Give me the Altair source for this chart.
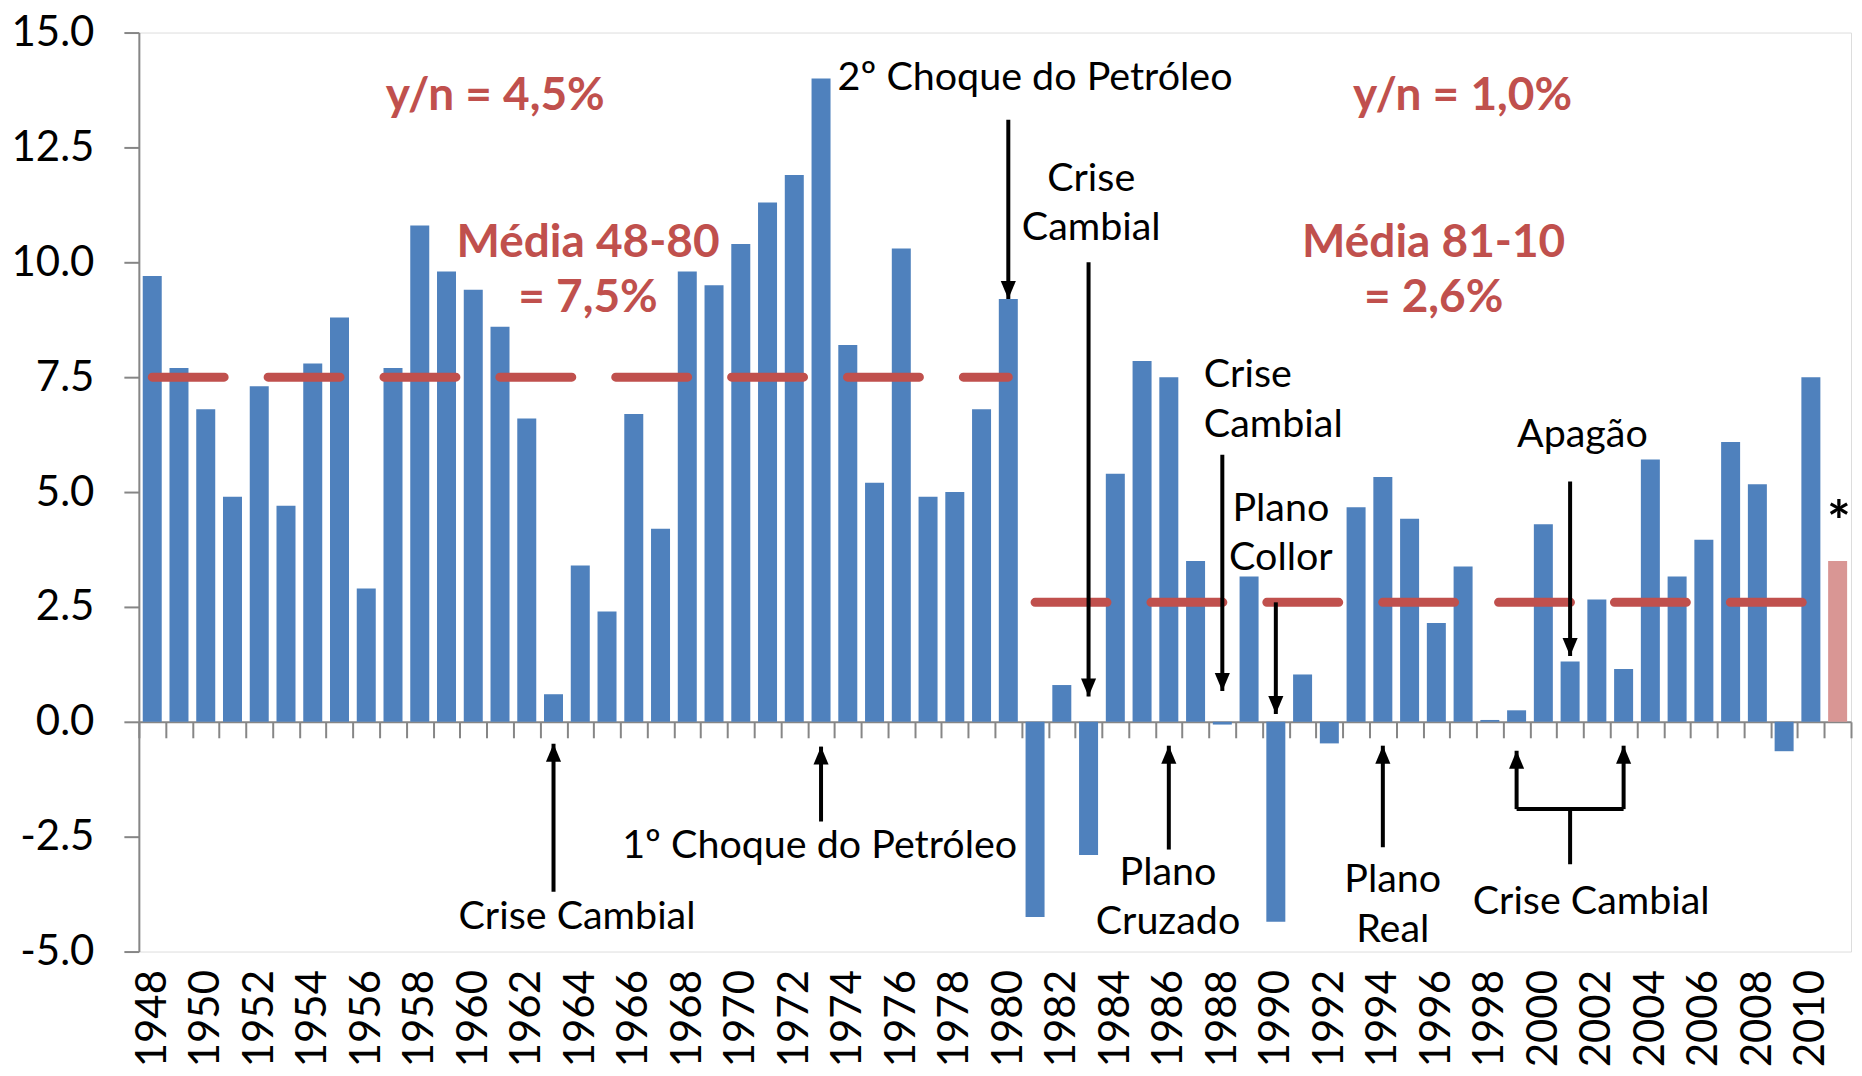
import altair as alt
import pandas as pd

# ---------------- data ----------------
years = list(range(1948, 2012))
growth = [9.7, 7.7, 6.8, 4.9, 7.3, 4.7, 7.8, 8.8, 2.9, 7.7,
          10.8, 9.8, 9.4, 8.6, 6.6, 0.6, 3.4, 2.4, 6.7, 4.2,
          9.8, 9.5, 10.4, 11.3, 11.9, 14.0, 8.2, 5.2, 10.3, 4.9,
          5.0, 6.8, 9.2, -4.25, 0.8, -2.9, 5.4, 7.85, 7.5, 3.5,
          -0.06, 3.16, -4.35, 1.03, -0.47, 4.67, 5.33, 4.42, 2.15, 3.38,
          0.04, 0.25, 4.3, 1.31, 2.66, 1.15, 5.71, 3.16, 3.96, 6.09,
          5.17, -0.64, 7.5, 3.5]
status = ["Realizado"] * 63 + ["Projeção"]

label_years = list(range(1948, 2011, 2))
tick_bounds = [y - 0.5 for y in range(1948, 2013)]
y_ticks = [-5.0, -2.5, 0.0, 2.5, 5.0, 7.5, 10.0, 12.5, 15.0]

mean_start = [1948, 1981]
mean_end = [1980, 2010]
mean_value = [7.5, 2.6]

red_text = ["y/n = 4,5%", "y/n = 1,0%", "Média 48-80", "= 7,5%", "Média 81-10", "= 2,6%"]
red_x = [1960.82, 1996.98, 1964.29, 1964.29, 1995.9, 1995.9]
red_y = [13.62, 13.62, 10.43, 9.22, 10.43, 9.22]

note_text = ["2º Choque do Petróleo", "Crise", "Cambial", "Plano", "Collor", "Apagão",
             "Crise Cambial", "1º Choque do Petróleo", "Plano", "Cruzado", "Plano", "Real",
             "Crise Cambial"]
note_x = [1981.0, 1983.1, 1983.1, 1990.19, 1990.19, 2001.46,
          1963.88, 1972.95, 1985.97, 1985.97, 1994.37, 1994.37, 2001.79]
note_y = [14.0, 11.82, 10.74, 4.64, 3.56, 6.25,
          -4.25, -2.71, -3.28, -4.36, -3.45, -4.53, -3.93]

star_text = ["*"]
star_x = [2011.05]
star_y = [4.3]

left_text = ["Crise", "Cambial"]
left_x = [1987.31, 1987.31]
left_y = [7.55, 6.46]

arrow_year = [1963, 1973, 1980, 1983, 1988, 1990, 1986, 1994, 2001, 1999, 2003]
arrow_from = [-3.7, -2.17, 13.1, 10.0, 5.81, 2.6, -2.78, -2.73, 5.23, -1.9, -1.9]
arrow_tip = [-0.48, -0.54, 9.2, 0.55, 0.67, 0.17, -0.52, -0.52, 1.43, -0.63, -0.52]
arrow_dir = ["up", "up", "down", "down", "down", "down", "up", "up", "down", "up", "up"]

bracket_x = [1999, 2001]
bracket_x2 = [2003, 2001]
bracket_y = [-1.9, -1.9]
bracket_y2 = [-1.9, -3.1]

# ---------------- frames ----------------
bars_df = pd.DataFrame({"year": years, "growth": growth, "status": status})
means_df = pd.DataFrame({"start": mean_start, "end": mean_end, "value": mean_value})
red_df = pd.DataFrame({"x": red_x, "y": red_y, "t": red_text})
note_df = pd.DataFrame({"x": note_x, "y": note_y, "t": note_text})
star_df = pd.DataFrame({"x": star_x, "y": star_y, "t": star_text})
left_df = pd.DataFrame({"x": left_x, "y": left_y, "t": left_text})
arrow_df = pd.DataFrame({"year": arrow_year, "y0": arrow_from, "y1": arrow_tip, "dir": arrow_dir})
bracket_df = pd.DataFrame({"x": bracket_x, "x2": bracket_x2, "y": bracket_y, "y2": bracket_y2})
bounds_df = pd.DataFrame({"b": tick_bounds})

FONT = "Lato"
GRAY = "#868686"
xscale = alt.Scale(domain=[1947.5, 2011.5], nice=False, zero=False)
yscale = alt.Scale(domain=[-5, 15], nice=False)

W, H = 1714, 920

x_axis_labels = alt.Axis(values=label_years, format="d", labelAngle=-90, ticks=False,
                         domain=False, grid=False, title=None, orient="bottom",
                         labelFont=FONT, labelFontSize=42, labelColor="black",
                         labelPadding=18, labelFlush=False, labelOverlap=False)
x_axis_ticks = alt.Axis(values=tick_bounds, labels=False, ticks=True, tickSize=16,
                        tickColor=GRAY, tickWidth=2, domain=True, domainColor=GRAY,
                        domainWidth=2, grid=False, title=None, orient="bottom",
                        offset=-H * 5 / 20)
y_axis = alt.Axis(values=y_ticks, grid=False, tickSize=15, tickColor=GRAY,
                  tickWidth=2, domainColor=GRAY, domainWidth=2, title=None,
                  labelExpr="replace(format(datum.value, '.1f'), '\u2212', '-')",
                  labelFont=FONT, labelFontSize=42, labelColor="black", labelPadding=30)


def X(field):
    return alt.X(field, scale=xscale, axis=None)


def Y(field):
    return alt.Y(field, scale=yscale, title=None)


bars = alt.Chart(bars_df).transform_calculate(
    x0="datum.year - 0.355", x1="datum.year + 0.355"
).mark_bar().encode(
    x=alt.X("x0:Q", scale=xscale, axis=x_axis_labels),
    x2="x1:Q",
    y=alt.Y("growth:Q", scale=yscale, axis=y_axis),
    y2=alt.datum(0),
    color=alt.Color("status:N", scale=alt.Scale(domain=["Realizado", "Projeção"],
                                                range=["#4F81BD", "#D99694"]), legend=None),
)

means = alt.Chart(means_df).mark_rule(
    color="#C0504D", strokeWidth=9, strokeDash=[72, 44], strokeCap="round"
).encode(x=X("start:Q"), x2="end:Q", y=Y("value:Q"))

shafts = alt.Chart(arrow_df).mark_rule(color="black", strokeWidth=4).encode(
    x=X("year:Q"), y=Y("y0:Q"), y2="y1:Q")

head_up = "M0,0L-0.42,1L0.42,1Z"
head_down = "M0,0L-0.42,-1L0.42,-1Z"
heads = alt.Chart(arrow_df).mark_point(filled=True, opacity=1, color="black", size=1296).encode(
    x=X("year:Q"), y=Y("y1:Q"),
    shape=alt.Shape("dir:N", scale=alt.Scale(domain=["up", "down"], range=[head_up, head_down]),
                    legend=None))

bracket = alt.Chart(bracket_df).mark_rule(color="black", strokeWidth=4).encode(
    x=X("x:Q"), x2="x2:Q", y=Y("y:Q"), y2="y2:Q")

red = alt.Chart(red_df).mark_text(font=FONT, fontSize=46, fontWeight="bold", color="#C0504D",
                                  align="center", baseline="middle").encode(
    x=X("x:Q"), y=Y("y:Q"), text="t:N")
notes = alt.Chart(note_df).mark_text(font=FONT, fontSize=39.5, color="black",
                                     align="center", baseline="middle").encode(
    x=X("x:Q"), y=Y("y:Q"), text="t:N")
star = alt.Chart(star_df).mark_text(font=FONT, fontSize=56, fontWeight="bold", color="black",
                                    align="center", baseline="middle").encode(
    x=X("x:Q"), y=Y("y:Q"), text="t:N")
lefts = alt.Chart(left_df).mark_text(font=FONT, fontSize=39.5, color="black",
                                     align="left", baseline="middle").encode(
    x=X("x:Q"), y=Y("y:Q"), text="t:N")

tick_layer = alt.Chart(bounds_df).mark_point(opacity=0).encode(
    x=alt.X("b:Q", scale=xscale, axis=x_axis_ticks), y=alt.datum(0))

chart = alt.layer(
    bars, tick_layer, means, shafts, heads, bracket, red, notes, star, lefts
).resolve_axis(x="independent").properties(
    width=W, height=H, padding={"left": 3, "top": 3, "right": 0, "bottom": 0}
).configure_view(stroke="#222", strokeWidth=2).configure(background="white")

chart.save("out.html", embed_options={"renderer": "svg", "actions": False})
